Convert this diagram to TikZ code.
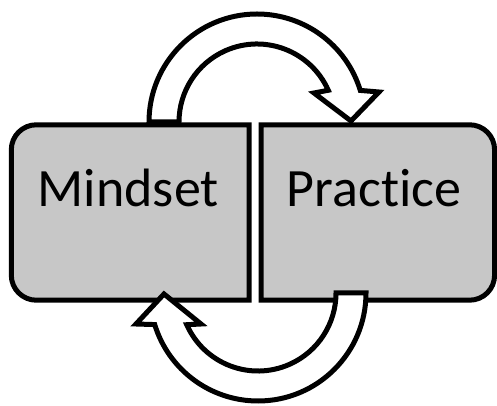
\documentclass[tikz,border=0pt]{standalone}
\usepackage{fontspec}
\setmainfont{Carlito}[Ligatures=NoCommon]
\usetikzlibrary{positioning}
\tikzset{
	boxline/.style={draw=black, line width=5pt, fill=black!22},
	loopline/.style={draw=black, line width=5pt, fill=white, line join=miter},
	word/.style={font=\fontsize{54}{62}\selectfont, text=black, inner sep=0pt, anchor=base}
}
\begin{document}
\begin{tikzpicture}[x=1pt,y=1pt]
				\useasboundingbox (0,0) rectangle (497,406);
				\node [minimum width=237.5pt, minimum height=175pt, inner sep=0pt] (mind) at (130.25,193.5) {};
				\node [minimum width=233pt, minimum height=175pt, inner sep=0pt, right=12pt of mind] (prac) {};
				\coordinate (ctop) at (257,284);
				\coordinate (cbot) at (258,113);
				% upper loop, from Mindset to Practice
				\draw[loopline] ([shift={(180:108)}]ctop) arc[start angle=180, end angle=17, radius=108]
					-- (379,314) coordinate (topwing) -- (351,285) coordinate (toptip) -- (314,313) coordinate (topnotch)
					-- ([shift={(24:78)}]ctop) arc[start angle=24, end angle=180, radius=78] -- cycle;
				% the boxes
				\draw[boxline] (mind.south east) -- ([xshift=25pt]mind.south west) arc[start angle=270, end angle=180, radius=25]
					-- ([yshift=-25pt]mind.north west) arc[start angle=180, end angle=90, radius=25] -- (mind.north east) -- cycle;
				\draw[boxline] (prac.north west) -- ([xshift=-25pt]prac.north east) arc[start angle=90, end angle=0, radius=25]
					-- ([yshift=25pt]prac.south east) arc[start angle=0, end angle=-90, radius=25] -- (prac.south west) -- cycle;
				% lower loop, from Practice back to Mindset
				\draw[loopline] ([shift={(0:108)}]cbot) arc[start angle=0, end angle=-163, radius=108]
					-- (136,82) coordinate (botwing) -- (164,112) coordinate (bottip) -- (201,82) coordinate (botnotch)
					-- ([shift={(-156:78)}]cbot) arc[start angle=-156, end angle=0, radius=78] -- cycle;
				\node [word] (mindtxt) at ([xshift=-2pt,yshift=5.5pt]mind.center) {Mindset};
				\node [word] (practxt) at ([xshift=-4pt,yshift=5.5pt]prac.center) {Practice};
\end{tikzpicture}
\end{document}
